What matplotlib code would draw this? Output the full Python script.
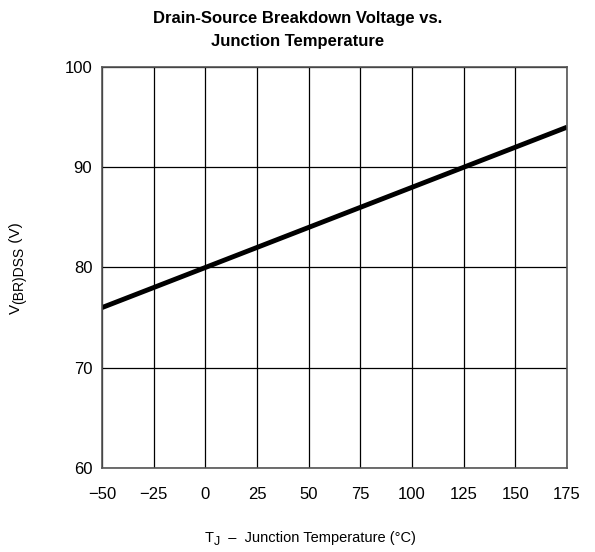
import matplotlib.pyplot as plt

plt.rcParams['font.family'] = ['Liberation Sans', 'DejaVu Sans']

temp_c = [-50, 0, 125, 175]
v_brdss = [76, 80, 90, 94]
x_ticks = [-50, -25, 0, 25, 50, 75, 100, 125, 150, 175]
x_labels = ['\u221250', '\u221225', '0', '25', '50', '75', '100', '125', '150', '175']
y_ticks = [60, 70, 80, 90, 100]

W, H = 595, 552
fig = plt.figure(figsize=(W / 100, H / 100), dpi=100)
ax = fig.add_axes([0.1714, 0.1522, 0.7816, 0.7264])

ax.plot(temp_c, v_brdss, color='black', linewidth=3.5, solid_capstyle='butt')

ax.set_xlim(-50, 175)
ax.set_ylim(60, 100)
ax.set_xticks(x_ticks)
ax.set_xticklabels(x_labels)
ax.set_yticks(y_ticks)
ax.grid(True, color='black', linewidth=0.9)
ax.tick_params(length=0, labelsize=12)
ax.tick_params(axis='x', pad=14)
ax.tick_params(axis='y', pad=7)
for s in ax.spines.values():
    s.set_color('#555555')
    s.set_linewidth(1.2)

fig.text(0.5, 1 - 30 / H, 'Drain-Source Breakdown Voltage vs.\nJunction Temperature',
         ha='center', va='center', fontsize=12, fontweight='bold', linespacing=1.65)


# labels with large subscripts, built from pieces (pixel coords, y from top)
def label_parts(parts, cx, cy, vertical=False):
    texts = []
    for s, drop, size in parts:
        t = fig.text(0, 0, s, fontsize=size, rotation=90 if vertical else 0,
                     rotation_mode='anchor', ha='left', va='baseline')
        texts.append((t, drop))
    fig.canvas.draw()
    r = fig.canvas.get_renderer()
    lens = []
    for t, _ in texts:
        bb = t.get_window_extent(r)
        lens.append(bb.height if vertical else bb.width)
    pos = -sum(lens) / 2
    for (t, drop), n in zip(texts, lens):
        if vertical:
            x, y = cx + drop, cy - pos
        else:
            x, y = cx + pos, cy + drop
        t.set_position((x / W, 1 - y / H))
        pos += n


label_parts([('T', 0, 10.5), ('J', 3, 9), ('  \u2013  Junction Temperature (\u00b0C)', 0, 10.5)], 310, 542)
label_parts([('V', 0, 11), ('(BR)DSS', 3, 10), (' (V)', 0, 11)], 20, 268, vertical=True)

fig.savefig('out.png', dpi=100)
